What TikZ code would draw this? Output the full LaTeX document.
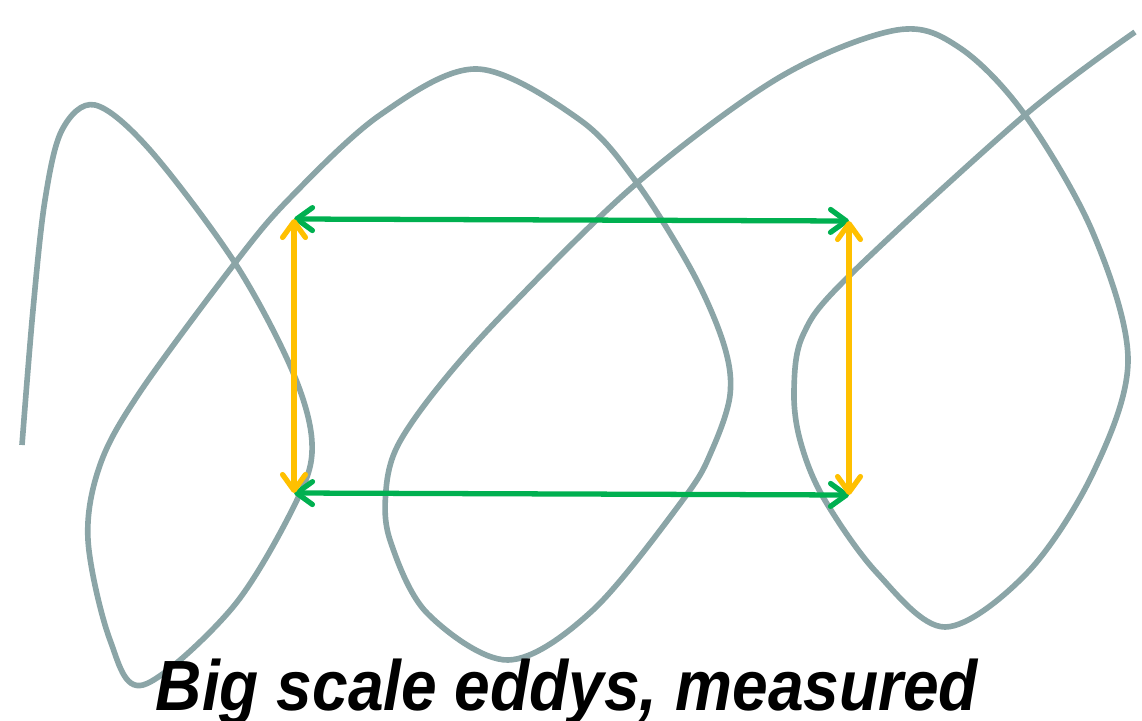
\documentclass[tikz,border=0pt]{standalone}
\usepackage{fontspec}
\setmainfont{Liberation Sans}
\newfontfamily\captionfont[FakeStretch=0.9]{Liberation Sans}
\usetikzlibrary{arrows.meta}
\definecolor{eddygray}{HTML}{8BA5A7}
\definecolor{measgreen}{HTML}{00B050}
\definecolor{measyellow}{HTML}{FFC000}
\tikzset{
  eddyline/.style={draw=eddygray, line width=3.2pt, line cap=butt},
  measarrow/.style={line width=3pt, line cap=round,
     {Straight Barb[length=9pt,width=13pt,line cap=round,line join=round]}-{Straight Barb[length=9pt,width=13pt,line cap=round,line join=round]}},
  hor/.style={measarrow, draw=measgreen},
  ver/.style={measarrow, draw=measyellow},
  captiontext/.style={font=\captionfont\bfseries\itshape\fontsize{40.5pt}{44pt}\selectfont, inner sep=0pt, anchor=base}
}
\begin{document}
\begin{tikzpicture}[x=0.02cm, y=-0.02cm]
\useasboundingbox (0,0) rectangle (1142,720);
\path[eddyline] plot[smooth, tension=0.55] coordinates {
(22,445) (33,310) (45,200) (62,130) (95,105) (150,150) (235,263) (292,370) (312,443) (297,500) (233,607) (143,685) (110,640) (88,540) (100,465) (140,392) (235,263) (290,198) (380,115) (477,69) (580,120) (637,183) (693,273) (724,345) (730,395) (712,450) (685,497) (593,610) (508,660) (427,613) (390,540) (386,490) (398,445) (440,385) (507,310) (637,183) (780,77) (897,30) (960,48) (1025,115) (1093,233) (1128,360) (1093,473) (1027,573) (945,627) (877,573) (823,497) (800,440) (794,390) (803,335) (848,277) (1025,115) (1135,32)};
\coordinate (tl) at (294,219);
\coordinate (tr) at (849,221);
\coordinate (bl) at (294,493);
\coordinate (br) at (849,495);
\draw[hor] (tl) -- (tr);
\draw[hor] (bl) -- (br);
\draw[ver] (tl) -- (bl);
\draw[ver] (tr) -- (br);
\node[captiontext] (cap) at (567,710) {Big scale eddys, measured};
\end{tikzpicture}
\end{document}
